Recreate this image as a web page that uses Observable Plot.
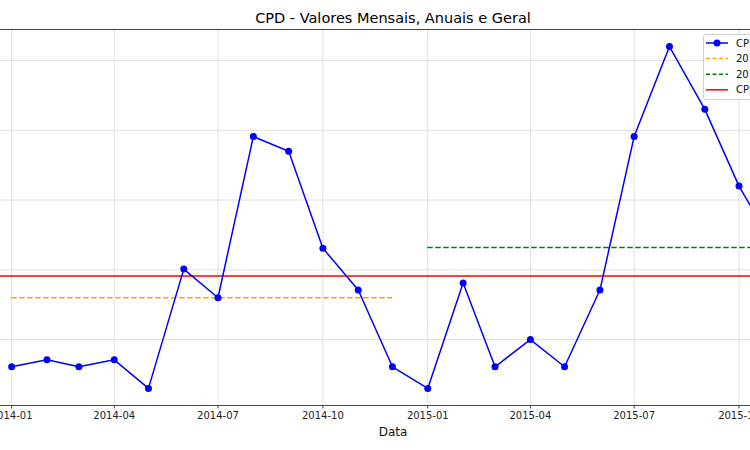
<!DOCTYPE html>
<html>
<head>
<meta charset="utf-8">
<script src="https://cdn.jsdelivr.net/npm/d3@7"></script>
<script src="https://cdn.jsdelivr.net/npm/@observablehq/plot@0.6"></script>
<style>
  html, body { margin: 0; padding: 0; background: #fff; overflow: hidden; }
  #wrap { position: relative; width: 750px; height: 450px; overflow: hidden; background: #fff; font-family: "DejaVu Sans", sans-serif; }
  #wrap svg.plotsvg { position: absolute; left: -27px; top: 0; }
  #legend { position: absolute; left: 703px; top: 34px; width: 104px; height: 64px; border: 1px solid #d0d0d0; border-radius: 3px; background: rgba(255,255,255,0.85); }
</style>
</head>
<body>
<div id="wrap"></div>
<script>
// ---- data (y units arbitrary since tick labels are cropped) ----
const months = ["2014-01","2014-02","2014-03","2014-04","2014-05","2014-06","2014-07","2014-08","2014-09","2014-10","2014-11","2014-12",
                "2015-01","2015-02","2015-03","2015-04","2015-05","2015-06","2015-07","2015-08","2015-09","2015-10","2015-11"];
const cpdValues = [0.61,0.71,0.61,0.71,0.30,2.01,1.60,3.91,3.70,2.31,1.71,0.61,
                   0.30,1.81,0.61,1.00,0.61,1.71,3.91,5.20,4.30,3.20,2.33];
const years = ["2014","2015"];
const yearMeans = [1.60, 2.32];
const yearColors = ["#ffa500", "#008000"];
const overallMean = 1.91;
const xTickLabels = ["2014-01","2014-04","2014-07","2014-10","2015-01","2015-04","2015-07","2015-10"];
const yGridValues = [1,2,3,4,5];
const legendLabels = ["CPD Mensal","2014 Média","2015 Média","CPD Geral"];

const parse = d3.utcParse("%Y-%m");
const monthly = months.map((m, i) => ({date: parse(m), value: cpdValues[i]}));
const annual = years.map((y, i) => {
  const rows = monthly.filter(d => d.date.getUTCFullYear() === +y);
  return {x1: rows[0].date, x2: rows[rows.length - 1].date, mean: yearMeans[i], color: yearColors[i]};
});
const xTicks = xTickLabels.map(parse);

// matplotlib-like 5% padding
const t0 = monthly[0].date.getTime(), t1 = monthly[monthly.length - 1].date.getTime();
const padT = (t1 - t0) * 0.05;
const vMin = d3.min(cpdValues), vMax = d3.max(cpdValues);
const padV = (vMax - vMin) * 0.05;

const chart = Plot.plot({
  width: 839,
  height: 450,
  marginLeft: 0,
  marginRight: 0,
  marginTop: 29,
  marginBottom: 45,
  style: "max-width:none; overflow:visible; background:transparent; font-family:'DejaVu Sans', sans-serif;",
  x: {type: "utc", domain: [new Date(t0 - padT), new Date(t1 + padT)]},
  y: {domain: [vMin - padV, vMax + padV], axis: null},
  marks: [
    Plot.gridY(yGridValues, {stroke: "#dcdcdc", strokeOpacity: 1, strokeWidth: 0.9}),
    Plot.gridX(xTicks, {stroke: "#dcdcdc", strokeOpacity: 1, strokeWidth: 0.9}),
    Plot.ruleY(annual, {x1: "x1", x2: "x2", y: "mean", stroke: d => d.color, strokeWidth: 1.5, strokeDasharray: "5.5,2.5"}),
    Plot.ruleY([overallMean], {stroke: "#ff0000", strokeWidth: 1.5}),
    Plot.line(monthly, {x: "date", y: "value", stroke: "#0000ff", strokeWidth: 1.5}),
    Plot.dot(monthly, {x: "date", y: "value", r: 3.5, fill: "#0000ff", stroke: "none"}),
    Plot.frame({stroke: "#444", strokeWidth: 1}),
    Plot.axisX({ticks: xTicks, tickFormat: d3.utcFormat("%Y-%m"), tickSize: 3.5, tickPadding: 3, fontSize: 10, label: null, fill: "#222", stroke: "#444"}),
    Plot.text(["CPD - Valores Mensais, Anuais e Geral"], {frameAnchor: "top", dy: -7, lineAnchor: "bottom", fontSize: 14.5, fill: "#000"}),
    Plot.text(["Data"], {frameAnchor: "bottom", dy: 27, lineAnchor: "middle", fontSize: 12, fill: "#111"})
  ]
});
chart.classList.add("plotsvg");
const wrap = document.getElementById("wrap");
wrap.appendChild(chart);

// legend
const legend = d3.select(wrap).append("div").attr("id", "legend");
const lsvg = legend.append("svg").attr("width", 104).attr("height", 64).style("display", "block");
const rows = [
  {c: "#0000ff", dash: null, marker: true},
  {c: "#ffa500", dash: "4,2.5", marker: false},
  {c: "#008000", dash: "4,2.5", marker: false},
  {c: "#ff0000", dash: null, marker: false}
];
rows.forEach((r, i) => {
  const y = 8 + i * 15.6;
  lsvg.append("line").attr("x1", 2).attr("x2", 24).attr("y1", y).attr("y2", y)
    .attr("stroke", r.c).attr("stroke-width", 1.5).attr("stroke-dasharray", r.dash);
  if (r.marker) lsvg.append("circle").attr("cx", 13).attr("cy", y).attr("r", 3.5).attr("fill", r.c);
  lsvg.append("text").attr("x", 32).attr("y", y).attr("dy", "0.35em")
    .attr("font-size", 10).attr("font-family", "DejaVu Sans, sans-serif").attr("fill", "#111")
    .text(legendLabels[i]);
});
</script>
</body>
</html>
